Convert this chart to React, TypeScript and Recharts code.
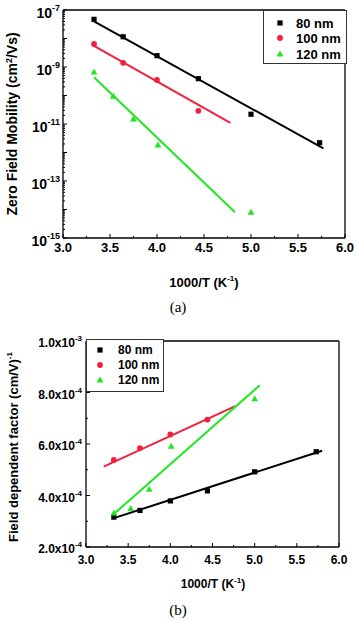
import React from "react";
import {
  ComposedChart,
  Line,
  Scatter,
  XAxis,
  YAxis,
  ReferenceLine,
} from "recharts";

// ---- data ----
const seriesNames = ["80 nm", "100 nm", "120 nm"];
const seriesColors = ["#000000", "#f2203c", "#22e622"];

// (a) zero field mobility, cm^2/Vs
const invT80 = [3.33, 3.64, 4.0, 4.44, 5.0, 5.73];
const mobility80 = [4.7e-8, 1.15e-8, 2.5e-9, 3.9e-10, 2.2e-11, 2.2e-12];
const invT100 = [3.33, 3.64, 4.0, 4.44];
const mobility100 = [6.4e-9, 1.4e-9, 3.5e-10, 2.9e-11];
const invT120 = [3.33, 3.535, 3.75, 4.01, 5.0];
const mobility120 = [6.6e-10, 9.3e-11, 1.5e-11, 1.8e-12, 7.9e-15];

const fitMobX80 = [3.33, 5.77];
const fitMobY80 = [4.0e-8, 1.4e-12];
const fitMobX100 = [3.33, 4.78];
const fitMobY100 = [5.5e-9, 1.1e-11];
const fitMobX120 = [3.33, 4.83];
const fitMobY120 = [4.4e-10, 8e-15];

// (b) field dependent factor, (cm/V)^-1/2
const factor80 = [3.16e-4, 3.42e-4, 3.79e-4, 4.18e-4, 4.92e-4, 5.7e-4];
const factor100 = [5.38e-4, 5.84e-4, 6.37e-4, 6.95e-4];
const invT120b = [3.33, 3.53, 3.75, 4.01, 5.0];
const factor120 = [3.32e-4, 3.49e-4, 4.24e-4, 5.91e-4, 7.75e-4];

const fitFacX80 = [3.33, 5.8];
const fitFacY80 = [3.12e-4, 5.74e-4];
const fitFacX100 = [3.21, 4.77];
const fitFacY100 = [5.12e-4, 7.47e-4];
const fitFacX120 = [3.32, 5.06];
const fitFacY120 = [3.25e-4, 8.28e-4];

// axis ticks
const xTicks = [3, 3.25, 3.5, 3.75, 4, 4.25, 4.5, 4.75, 5, 5.25, 5.5, 5.75, 6];
const logDecades = [-15, -14, -13, -12, -11, -10, -9, -8];
const logTicks = [
  ...logDecades.flatMap((e) => [1, 2, 3, 4, 5, 6, 7, 8, 9].map((m) => m * Math.pow(10, e))),
  1e-7,
];
const factorTicks = [2e-4, 3e-4, 4e-4, 5e-4, 6e-4, 7e-4, 8e-4, 9e-4, 1e-3];

const zip = (xs: number[], ys: number[]) => xs.map((x, i) => ({ x, y: ys[i] }));

const FONT = "'Liberation Sans', Arial, sans-serif";

function Marker({ kind, cx, cy, color }: { kind: number; cx: number; cy: number; color: string }) {
  if (kind === 0) return <rect x={cx - 2.6} y={cy - 2.6} width={5.2} height={5.2} fill={color} />;
  if (kind === 1) return <circle cx={cx} cy={cy} r={2.9} fill={color} />;
  return <polygon points={`${cx},${cy - 3.6} ${cx + 3.4},${cy + 2.4} ${cx - 3.4},${cy + 2.4}`} fill={color} />;
}

const shapeFor = (kind: number) => (p: any) => (
  <Marker kind={kind} cx={p.cx} cy={p.cy} color={seriesColors[kind]} />
);

function XTick(props: any) {
  const { x, y, payload, fontSize, gap } = props;
  const v = payload.value;
  const major = Math.abs(v * 2 - Math.round(v * 2)) < 1e-6;
  return (
    <g>
      <line x1={x} x2={x} y1={y} y2={y - (major ? 4 : 2)} stroke="#000" strokeWidth={1} />
      {major && (
        <text x={x} y={y + gap} textAnchor="middle" fontSize={fontSize} fontWeight="bold" fontFamily={FONT} fill="#000">
          {v.toFixed(1)}
        </text>
      )}
    </g>
  );
}

function LogTick(props: any) {
  const { x, y, payload } = props;
  const v = payload.value;
  const e = Math.round(Math.log10(v));
  const major = Math.abs(v / Math.pow(10, e) - 1) < 1e-6;
  return (
    <g>
      <line x1={x} x2={x + (major ? 4 : 2)} y1={y} y2={y} stroke="#000" strokeWidth={1} />
      {major && Math.abs(e) % 2 === 1 && (
        <text x={x - 3} y={y + 8} textAnchor="end" fontSize={14} fontWeight="bold" fontFamily={FONT} fill="#000">
          10
          <tspan dy={-7} fontSize={9}>{e}</tspan>
        </text>
      )}
    </g>
  );
}

function FactorTick(props: any) {
  const { x, y, payload } = props;
  const v = payload.value;
  const major = Math.round(v * 1e4) % 2 === 0;
  const exp = v >= 1e-3 ? -3 : -4;
  const mant = (v / Math.pow(10, exp)).toFixed(1);
  return (
    <g>
      <line x1={x} x2={x + (major ? 4 : 2)} y1={y} y2={y} stroke="#000" strokeWidth={1} />
      {major && (
        <text x={x - 4} y={y + 6} textAnchor="end" fontSize={12} fontWeight="bold" fontFamily={FONT} fill="#000">
          {mant}x10
          <tspan dy={-6} fontSize={8}>{exp}</tspan>
        </text>
      )}
    </g>
  );
}

function LegendBox({ left, top, width, height, rowY, markerX, textX, fontSize }: any) {
  return (
    <div
      style={{
        position: "absolute",
        left,
        top,
        width,
        height,
        border: "1px solid #333",
        background: "#fff",
        boxSizing: "border-box",
      }}
    >
      <svg width={width - 2} height={height - 2} style={{ position: "absolute", left: 0, top: 0 }}>
        {seriesNames.map((name, i) => (
          <g key={name}>
            <Marker kind={i} cx={markerX} cy={rowY[i]} color={seriesColors[i]} />
            <text x={textX} y={rowY[i] + fontSize * 0.36} fontSize={fontSize} fontWeight="bold" fontFamily={FONT}>
              {name}
            </text>
          </g>
        ))}
      </svg>
    </div>
  );
}

const titleStyle: React.CSSProperties = {
  position: "absolute",
  fontFamily: FONT,
  fontWeight: "bold",
  whiteSpace: "nowrap",
  color: "#000",
};

function MobilityChart() {
  const pts = [zip(invT80, mobility80), zip(invT100, mobility100), zip(invT120, mobility120)];
  const fits = [zip(fitMobX80, fitMobY80), zip(fitMobX100, fitMobY100), zip(fitMobX120, fitMobY120)];
  return (
    <ComposedChart width={356} height={300} margin={{ top: 10, right: 11, bottom: 0, left: 0 }}>
      <XAxis
        type="number"
        dataKey="x"
        domain={[3, 6]}
        ticks={xTicks}
        interval={0}
        height={62}
        tickSize={0}
        tickMargin={0}
        axisLine={{ stroke: "#000", strokeWidth: 1.3 }}
        tick={<XTick fontSize={13} gap={14} />}
        allowDataOverflow
      />
      <YAxis
        type="number"
        dataKey="y"
        scale="log"
        domain={[1e-15, 1e-7]}
        ticks={logTicks}
        interval={0}
        width={63}
        tickSize={0}
        tickMargin={0}
        axisLine={{ stroke: "#000", strokeWidth: 1.3 }}
        tick={<LogTick />}
        allowDataOverflow
      />
      <ReferenceLine y={1e-7} stroke="#000" strokeWidth={1.3} ifOverflow="extendDomain" />
      <ReferenceLine x={6} stroke="#000" strokeWidth={1.3} ifOverflow="extendDomain" />
      {fits.map((d, i) => (
        <Line
          key={"fit" + i}
          data={d}
          dataKey="y"
          stroke={seriesColors[i]}
          strokeWidth={2}
          dot={false}
          activeDot={false}
          isAnimationActive={false}
        />
      ))}
      {pts.map((d, i) => (
        <Scatter key={"pts" + i} data={d} dataKey="y" shape={shapeFor(i)} isAnimationActive={false} />
      ))}
    </ComposedChart>
  );
}

function FactorChart() {
  const pts = [zip(invT80, factor80), zip(invT100, factor100), zip(invT120b, factor120)];
  const fits = [zip(fitFacX80, fitFacY80), zip(fitFacX100, fitFacY100), zip(fitFacX120, fitFacY120)];
  return (
    <ComposedChart width={356} height={321} margin={{ top: 41, right: 17, bottom: 0, left: 0 }}>
      <XAxis
        type="number"
        dataKey="x"
        domain={[3, 6]}
        ticks={xTicks}
        interval={0}
        height={74}
        tickSize={0}
        tickMargin={0}
        axisLine={{ stroke: "#000", strokeWidth: 1.3 }}
        tick={<XTick fontSize={12} gap={17} />}
        allowDataOverflow
      />
      <YAxis
        type="number"
        dataKey="y"
        domain={[2e-4, 1e-3]}
        ticks={factorTicks}
        interval={0}
        width={86}
        tickSize={0}
        tickMargin={0}
        axisLine={{ stroke: "#000", strokeWidth: 1.3 }}
        tick={<FactorTick />}
        allowDataOverflow
      />
      <ReferenceLine y={1e-3} stroke="#000" strokeWidth={1.3} ifOverflow="extendDomain" />
      <ReferenceLine x={6} stroke="#000" strokeWidth={1.3} ifOverflow="extendDomain" />
      {fits.map((d, i) => (
        <Line
          key={"fit" + i}
          data={d}
          dataKey="y"
          stroke={seriesColors[i]}
          strokeWidth={2}
          dot={false}
          activeDot={false}
          isAnimationActive={false}
        />
      ))}
      {pts.map((d, i) => (
        <Scatter key={"pts" + i} data={d} dataKey="y" shape={shapeFor(i)} isAnimationActive={false} />
      ))}
    </ComposedChart>
  );
}

export default function App() {
  return (
    <div style={{ position: "absolute", left: 0, top: 0, width: 356, height: 621, background: "#fff", overflow: "hidden" }}>
      <div style={{ position: "absolute", left: 0, top: 0 }}>
        <MobilityChart />
      </div>
      <div style={{ position: "absolute", left: 0, top: 300 }}>
        <FactorChart />
      </div>

      <LegendBox left={263} top={10} width={84} height={54} rowY={[12, 27, 43]} markerX={16} textX={32} fontSize={13} />
      <LegendBox left={86} top={339} width={78} height={53} rowY={[10, 25, 40]} markerX={13} textX={31} fontSize={12} />

      {/* axis titles */}
      <div style={{ ...titleStyle, fontSize: 14, left: 12, top: 124, transform: "translate(-50%, -50%) rotate(-90deg)" }}>
        Zero Field Mobility (cm<sup style={{ fontSize: 9 }}>2</sup>/Vs)
      </div>
      <div style={{ ...titleStyle, fontSize: 13, left: 204, top: 282, transform: "translate(-50%, -50%)" }}>
        1000/T (K<sup style={{ fontSize: 8 }}>-1</sup>)
      </div>
      <div style={{ ...titleStyle, fontSize: 13, left: 13, top: 447, transform: "translate(-50%, -50%) rotate(-90deg)" }}>
        Field dependent factor (cm/V)<sup style={{ fontSize: 8 }}>-1</sup>
      </div>
      <div style={{ ...titleStyle, fontSize: 12, left: 213, top: 583, transform: "translate(-50%, -50%)" }}>
        1000/T (K<sup style={{ fontSize: 8 }}>-1</sup>)
      </div>

      {/* panel captions */}
      <div style={{ position: "absolute", left: 178, top: 307, transform: "translate(-50%, -50%)", fontFamily: "'Liberation Serif', 'Times New Roman', serif", fontSize: 15 }}>
        (a)
      </div>
      <div style={{ position: "absolute", left: 178, top: 610, transform: "translate(-50%, -50%)", fontFamily: "'Liberation Serif', 'Times New Roman', serif", fontSize: 15 }}>
        (b)
      </div>
    </div>
  );
}
